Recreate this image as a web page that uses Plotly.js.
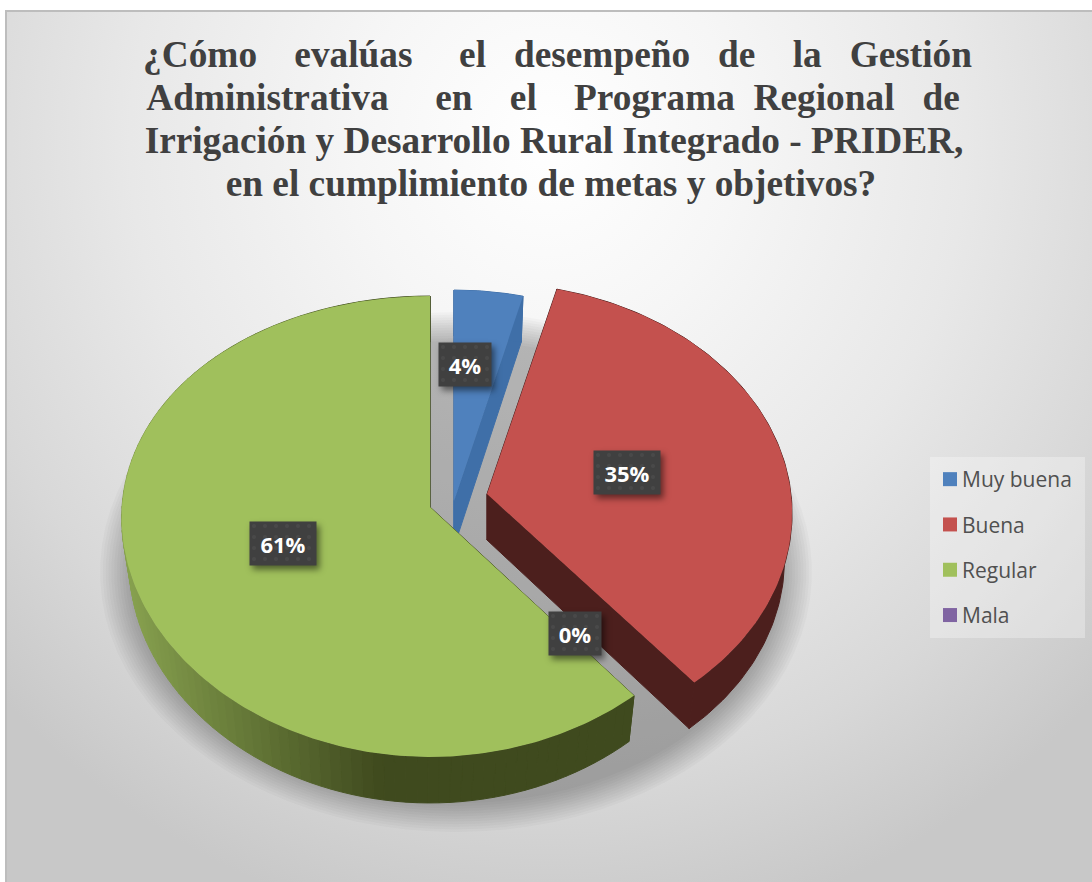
<!DOCTYPE html>
<html>
<head>
<meta charset="utf-8">
<script src="https://cdn.plot.ly/plotly-3.0.1.min.js"></script>
<style>
  html, body { margin: 0; padding: 0; background: #fff; }
  #frame {
    position: absolute; left: 5px; top: 10px; width: 1085px; height: 870px;
    border-top: 2px solid #bdbdbd; border-left: 2px solid #bdbdbd;
    background: radial-gradient(ellipse 760px 800px at 541px 130px, #ffffff 0%, #f6f6f6 25%, #e8e8e8 55%, #d8d8d8 80%, #c8c8c8 100%);
  }
  #chart { position: absolute; left: 0; top: 0; width: 1092px; height: 882px; }
  .legend .legendtext { transform: translateX(-8px); }
  .legend rect.bg { height: 181px; }
  .legend .scrollbox { transform: translateY(2px); }
  .annotation rect.bg { filter: drop-shadow(3px 4px 3px rgba(0,0,0,.5)); }
</style>
</head>
<body>
<div id="frame"></div>
<div id="chart"></div>
<script>
// ---- chart values ----
const categories = ["Muy buena", "Buena", "Regular", "Mala"];
const values = [4, 35, 61, 0];
const labels = ["4%", "35%", "61%", "0%"];
const faceColors = ["#4f81bd", "#c4514e", "#a0c05c", "#8064a2"];
const wallColors = ["#3f6fa8", "#4c1f1d", null, "#4d3c62"];
const sp = n => "\u00a0".repeat(n);
const titleLines = [
  "¿Cómo" + sp(4) + "evalúas" + sp(5) + "el" + sp(3) + "desempeño" + sp(3) + "de" + sp(4) + "la" + sp(3) + "Gestión",
  "Administrativa" + sp(5) + "en" + sp(4) + "el" + sp(4) + "Programa" + sp(2) + "Regional" + sp(3) + "de",
  "Irrigación y Desarrollo Rural Integrado - PRIDER,",
  "en el cumplimiento de metas y objetivos?"
];

// ---- drawing geometry (pixel axes, 3-D pie look) ----
const W = 1092, H = 882;
const Q = 228.8, K = 0.0846, DEPTH = 46, SHRINK = 0.975;
const sliceR = [300, 304, 308, 308], sliceKx = [K, K, 0.049, K];
const apexX = [454, 487, 430, 430], apexY = [501, 494, 507, 507];
const labelX = [465, 627, 283, 575], labelY = [364, 472, 543, 633];
const labelW = [50, 64, 64, 50];
const titleCenters = [557.5, 553, 554, 551];

function rim(i, th, low) {
  const cx = apexX[i], cy = apexY[i];
  const u = Math.sin(th), v = Math.cos(th);
  let x = cx + sliceR[i] * u / (1 + sliceKx[i] * v), y = cy - Q * v / (1 + K * v);
  if (low) { x = cx + (x - cx) * SHRINK; y += DEPTH; }
  return [x, y];
}
function lerp(a, b, t) { return Math.round(a + (b - a) * t); }
function greenWall(x) {
  const t = Math.max(0, Math.min(1, (x - 130) / 255));
  return "rgb(" + lerp(134, 63, t) + "," + lerp(160, 74, t) + "," + lerp(78, 30, t) + ")";
}
function poly(xs, ys, color, name, lw) {
  return { type: "scatter", mode: "lines", x: xs, y: ys, fill: "toself", fillcolor: color,
           line: { color: color, width: lw || 0 }, hoverinfo: "skip", showlegend: false, name: name };
}

const traces = [];
// soft shadow beneath the pie
for (let i = 0; i < 12; i++) {
  const ax = 356 - i * 2.8, by = 260 - i * 2.6, xs = [], ys = [];
  for (let d = 0; d <= 360; d += 4) {
    xs.push(456 + ax * Math.sin(d * Math.PI / 180));
    ys.push(572 + by * Math.cos(d * Math.PI / 180));
  }
  traces.push(poly(xs, ys, "rgba(0,0,0,0.022)", "shadow"));
}
// slices
const total = values.reduce((a, b) => a + b, 0);
let cum = 0;
values.forEach((val, i) => {
  const a0 = cum / total * 2 * Math.PI;
  cum += val;
  const a1 = cum / total * 2 * Math.PI;
  if (val <= 0) return;
  const cx = apexX[i], cy = apexY[i], steps = Math.ceil((a1 - a0) / (Math.PI / 180));
  const ang = k => a0 + (a1 - a0) * k / steps;
  // radial walls
  [a0, a1].forEach(a => {
    const t = rim(i, a, false), b = rim(i, a, true);
    const col = wallColors[i] || "#3f4a1e";
    traces.push(poly([cx, t[0], b[0], cx, cx], [cy, t[1], b[1], cy + DEPTH, cy], col, categories[i] + " wall", 1));
  });
  // outer wall, strip by strip
  const chunk = wallColors[i] ? steps : 2;
  for (let k = 0; k < steps; k += chunk) {
    const xs = [], ys = [], back = [];
    for (let m = k; m <= Math.min(k + chunk, steps); m++) {
      const t = rim(i, ang(m), false);
      xs.push(t[0]); ys.push(t[1]);
      back.unshift(rim(i, ang(m), true));
    }
    back.forEach(p => { xs.push(p[0]); ys.push(p[1]); });
    xs.push(xs[0]); ys.push(ys[0]);
    const col = wallColors[i] || greenWall(xs[0]);
    traces.push(poly(xs, ys, col, categories[i] + " wall", 1));
  }
  // top face
  const fx = [cx], fy = [cy];
  for (let k = 0; k <= steps; k++) {
    const p = rim(i, ang(k), false);
    fx.push(p[0]); fy.push(p[1]);
  }
  fx.push(cx); fy.push(cy);
  traces.push(poly(fx, fy, faceColors[i], categories[i]));
});
// legend entries
categories.forEach((c, i) => {
  traces.push({ type: "scatter", mode: "markers", x: [null], y: [null], name: c, legendgroup: c,
                marker: { symbol: "square", size: 14, color: faceColors[i] }, hoverinfo: "skip" });
});

const annotations = labels.map((t, i) => ({
  x: labelX[i], y: labelY[i], xref: "x", yref: "y", text: "<b>" + t + "</b>", showarrow: false,
  width: labelW[i], height: 41, bgcolor: "#404040", align: "center", valign: "middle",
  font: { family: "'Open Sans', Lato, sans-serif", size: 22, color: "#ffffff" }
}));

const layout = {
  width: W, height: H, margin: { l: 0, r: 0, t: 0, b: 0 },
  paper_bgcolor: "rgba(0,0,0,0)", plot_bgcolor: "rgba(0,0,0,0)",
  title: { text: titleLines.join("<br>"), x: 553 / W, xanchor: "center", xref: "paper",
           y: 1 - 67 / H, yanchor: "top", yref: "container",
           font: { family: "'Liberation Serif', serif", size: 37.3, color: "#404040", weight: "bold" } },
  xaxis: { range: [0, W], visible: false, fixedrange: true },
  yaxis: { range: [H, 0], visible: false, fixedrange: true },
  legend: { x: 930 / W, y: 1 - 457 / H, xanchor: "left", yanchor: "top", traceorder: "grouped",
            tracegroupgap: 15, bgcolor: "rgba(255,255,255,0.3)", itemclick: false, itemdoubleclick: false,
            entrywidth: 121, entrywidthmode: "pixels",
            font: { family: "'Open Sans', Lato, sans-serif", size: 21, color: "#505050" } },
  annotations: annotations,
  showlegend: true
};
Plotly.newPlot("chart", traces, layout, { displayModeBar: false }).then(() => {
  // Tight title leading and per-line centres, as in the reference
  document.querySelectorAll(".gtitle tspan.line").forEach((ts, i) => {
    ts.setAttribute("dy", (i * 43) + "px");
    ts.setAttribute("x", titleCenters[i]);
  });
  // Faint dot texture on the data label boxes
  const NS = "http://www.w3.org/2000/svg";
  const defs = document.createElementNS(NS, "defs");
  const pat = document.createElementNS(NS, "pattern");
  pat.setAttribute("id", "dots"); pat.setAttribute("width", 11); pat.setAttribute("height", 11);
  pat.setAttribute("patternUnits", "userSpaceOnUse");
  const bg = document.createElementNS(NS, "rect");
  bg.setAttribute("width", 11); bg.setAttribute("height", 11); bg.setAttribute("fill", "#404040");
  const dot = document.createElementNS(NS, "circle");
  dot.setAttribute("cx", 5); dot.setAttribute("cy", 5); dot.setAttribute("r", 2); dot.setAttribute("fill", "#494949");
  pat.appendChild(bg); pat.appendChild(dot); defs.appendChild(pat);
  document.querySelectorAll("#chart svg.main-svg").forEach(s => { if (s.querySelector(".annotation")) s.appendChild(defs); });
  document.querySelectorAll(".annotation rect.bg").forEach(r => { r.style.fill = "url(#dots)"; });
});
</script>
</body>
</html>
